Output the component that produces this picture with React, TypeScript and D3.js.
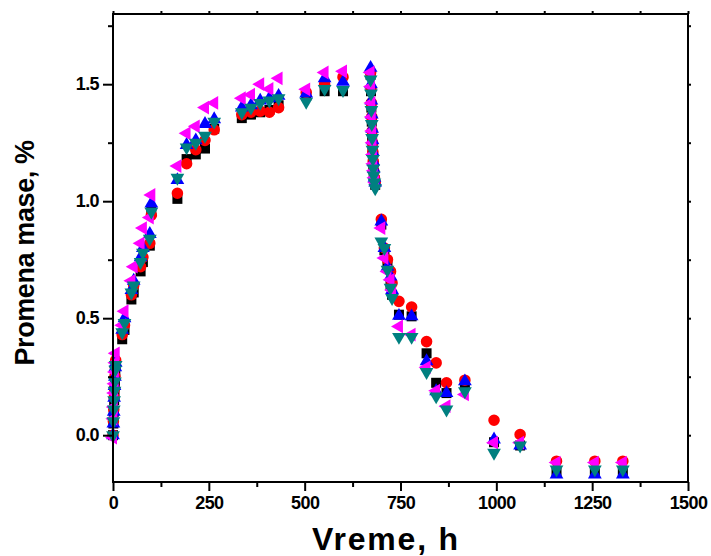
import React, { useEffect, useRef } from "react";
import * as d3 from "d3";

const times = [
  0, 1, 2, 3, 4, 5, 6, 7, 24, 30, 48, 54, 72, 78, 96, 100, 168, 192, 216, 240, 264, 336, 360, 384, 408, 432, 504, 552, 600,
  672, 673, 674, 675, 676, 677, 678, 679, 680, 682, 684,
  700, 708, 716, 724, 728, 746, 779, 818, 843, 870, 918, 994, 1062, 1157, 1257, 1330,
];

const blackValues = [
  0, 0.05, 0.1, 0.15, 0.19, 0.23, 0.27, 0.3, 0.41, 0.45, 0.58, 0.61, 0.7, 0.74, 0.81, 0.955, 1.01, 1.18, 1.2, 1.225, 1.31, 1.355, 1.37, 1.38, 1.39, 1.41, 1.45, 1.47, 1.47,
  1.54, 1.47, 1.4, 1.34, 1.28, 1.23, 1.19, 1.15, 1.12, 1.09, 1.07,
  0.9, 0.79, 0.72, 0.64, 0.6, 0.515, 0.508, 0.35, 0.224, 0.18, 0.22, -0.03, -0.044, -0.16, -0.16, -0.16,
];
const redValues = [
  0, 0.06, 0.11, 0.16, 0.2, 0.25, 0.29, 0.32, 0.43, 0.47, 0.6, 0.64, 0.72, 0.76, 0.82, 0.94, 1.034, 1.16, 1.22, 1.26, 1.305, 1.37, 1.38, 1.385, 1.38, 1.4, 1.465, 1.5, 1.53,
  1.55, 1.48, 1.42, 1.36, 1.3, 1.25, 1.21, 1.17, 1.13, 1.1, 1.08,
  0.923, 0.8, 0.75, 0.7, 0.65, 0.572, 0.548, 0.4, 0.309, 0.224, 0.235, 0.064, 0.003, -0.111, -0.111, -0.111,
];
const blueValues = [
  0, 0.05, 0.1, 0.16, 0.21, 0.25, 0.29, 0.31, 0.45, 0.5, 0.62, 0.66, 0.76, 0.8, 0.86, 0.99, 1.09, 1.24, 1.26, 1.33, 1.35, 1.4, 1.41, 1.43, 1.44, 1.45, 1.46, 1.525, 1.51,
  1.57, 1.5, 1.43, 1.37, 1.31, 1.26, 1.21, 1.17, 1.14, 1.1, 1.08,
  0.913, 0.8, 0.72, 0.678, 0.62, 0.51, 0.508, 0.316, 0.188, 0.18, 0.23, -0.018, -0.044, -0.168, -0.168, -0.168,
];
const magentaValues = [
  -0.01, 0.07, 0.12, 0.18, 0.22, 0.27, 0.31, 0.35, 0.47, 0.53, 0.66, 0.72, 0.82, 0.885, 0.93, 1.027, 1.15, 1.29, 1.32, 1.4, 1.42, 1.44, 1.455, 1.5, 1.48, 1.525, 1.478, 1.55, 1.555,
  1.55, 1.49, 1.42, 1.36, 1.3, 1.25, 1.2, 1.16, 1.13, 1.1, 1.08,
  0.885, 0.757, 0.7, 0.664, 0.62, 0.465, 0.43, 0.29, 0.19, 0.124, 0.174, -0.032, -0.032, -0.117, -0.117, -0.117,
];
const tealValues = [
  0, 0.06, 0.11, 0.15, 0.19, 0.23, 0.28, 0.3, 0.44, 0.48, 0.61, 0.64, 0.74, 0.78, 0.84, 0.955, 1.1, 1.23, 1.25, 1.28, 1.34, 1.38, 1.4, 1.42, 1.43, 1.44, 1.425, 1.48, 1.475,
  1.52, 1.46, 1.39, 1.33, 1.27, 1.22, 1.18, 1.14, 1.11, 1.08, 1.055,
  0.828, 0.8, 0.707, 0.63, 0.586, 0.42, 0.42, 0.27, 0.166, 0.11, 0.188, -0.075, -0.044, -0.146, -0.146, -0.146,
];

const xMajorTicks = [0, 250, 500, 750, 1000, 1250, 1500];
const xMinorTicks = [125, 375, 625, 875, 1125, 1375];
const yMajorTicks = [0, 0.5, 1.0, 1.5];
const yMinorTicks = [-0.25, 0.25, 0.75, 1.25, 1.75];

const xLabel = "Vreme, h";
const yLabel = "Promena mase, %";

type Series = { values: number[]; color: string; shape: string };

const series: Series[] = [
  { values: blackValues, color: "#000000", shape: "square" },
  { values: redValues, color: "#ff0000", shape: "circle" },
  { values: blueValues, color: "#0000ff", shape: "up" },
  { values: magentaValues, color: "#ff00ff", shape: "left" },
  { values: tealValues, color: "#008080", shape: "down" },
];

const W = 711;
const H = 556;
const FONT = "'Liberation Sans', Arial, sans-serif";

export default function App() {
  const ref = useRef<SVGSVGElement>(null);

  useEffect(() => {
    const svg = d3.select(ref.current);
    svg.selectAll("*").remove();

    const x = d3.scaleLinear().domain([0, 1500]).range([113, 688]);
    const y = d3.scaleLinear().domain([-0.2, 1.8]).range([482, 14]);
    const [x0, x1] = x.range();
    const [y0, y1] = y.range();

    const inY = (v: number) => v >= -0.2 && v <= 1.8;

    const symFor = (shape: string) => {
      if (shape === "square") return d3.symbol(d3.symbolSquare, 100);
      if (shape === "circle") return d3.symbol(d3.symbolCircle, 105);
      return d3.symbol(d3.symbolTriangle, 82);
    };
    const rotFor = (shape: string) =>
      shape === "down" ? 180 : shape === "left" ? -90 : 0;

    const gPts = svg.append("g");
    series.forEach((s) => {
      const g = gPts.append("g");
      const sym = symFor(s.shape);
      g.selectAll("path")
        .data(times.map((t, i) => [t, s.values[i]]))
        .join("path")
        .attr("d", sym() as string)
        .attr("fill", s.color)
        .attr(
          "transform",
          (d) => `translate(${x(d[0])},${y(d[1])}) rotate(${rotFor(s.shape)})`
        );
    });

    svg
      .append("rect")
      .attr("x", x0)
      .attr("y", y1)
      .attr("width", x1 - x0)
      .attr("height", y0 - y1)
      .attr("fill", "none")
      .attr("stroke", "#000")
      .attr("stroke-width", 2);

    const styleAxis = (g: any) => {
      g.select(".domain").remove();
      g.selectAll("line").attr("stroke", "#000").attr("stroke-width", 2);
      g.selectAll("text")
        .attr("font-family", FONT)
        .attr("font-weight", "bold")
        .attr("font-size", 18)
        .attr("letter-spacing", -0.6)
        .attr("fill", "#000");
    };

    svg
      .append("g")
      .attr("transform", `translate(0,${y0})`)
      .call(
        d3.axisBottom(x).tickValues(xMajorTicks).tickSize(9).tickPadding(5).tickFormat(d3.format("d"))
      )
      .call(styleAxis);
    svg
      .append("g")
      .attr("transform", `translate(0,${y0})`)
      .call(d3.axisBottom(x).tickValues(xMinorTicks).tickSize(5).tickFormat(() => ""))
      .call(styleAxis);
    svg
      .append("g")
      .attr("transform", `translate(0,${y1})`)
      .call(d3.axisTop(x).tickValues([...xMajorTicks, ...xMinorTicks]).tickSize(3).tickFormat(() => ""))
      .call(styleAxis);

    svg
      .append("g")
      .attr("transform", `translate(${x0},0)`)
      .call(
        d3.axisLeft(y).tickValues(yMajorTicks).tickSize(10).tickPadding(4).tickFormat(d3.format(".1f"))
      )
      .call(styleAxis);
    svg
      .append("g")
      .attr("transform", `translate(${x0},0)`)
      .call(d3.axisLeft(y).tickValues(yMinorTicks.filter(inY)).tickSize(5).tickFormat(() => ""))
      .call(styleAxis);
    svg
      .append("g")
      .attr("transform", `translate(${x1},0)`)
      .call(
        d3.axisRight(y).tickValues([...yMajorTicks, ...yMinorTicks].filter(inY)).tickSize(3).tickFormat(() => "")
      )
      .call(styleAxis);

    svg
      .append("text")
      .attr("x", 386)
      .attr("y", 550)
      .attr("text-anchor", "middle")
      .attr("font-family", FONT)
      .attr("font-weight", "bold")
      .attr("font-size", 32)
      .attr("letter-spacing", 1.8)
      .text(xLabel);
    svg
      .append("text")
      .attr("transform", `translate(34,253) rotate(-90)`)
      .attr("text-anchor", "middle")
      .attr("font-family", FONT)
      .attr("font-weight", "bold")
      .attr("font-size", 27)
      .attr("letter-spacing", -0.4)
      .text(yLabel);
  }, []);

  return (
    <svg
      ref={ref}
      width={W}
      height={H}
      style={{ position: "absolute", left: 0, top: 0, background: "#fff" }}
    />
  );
}
